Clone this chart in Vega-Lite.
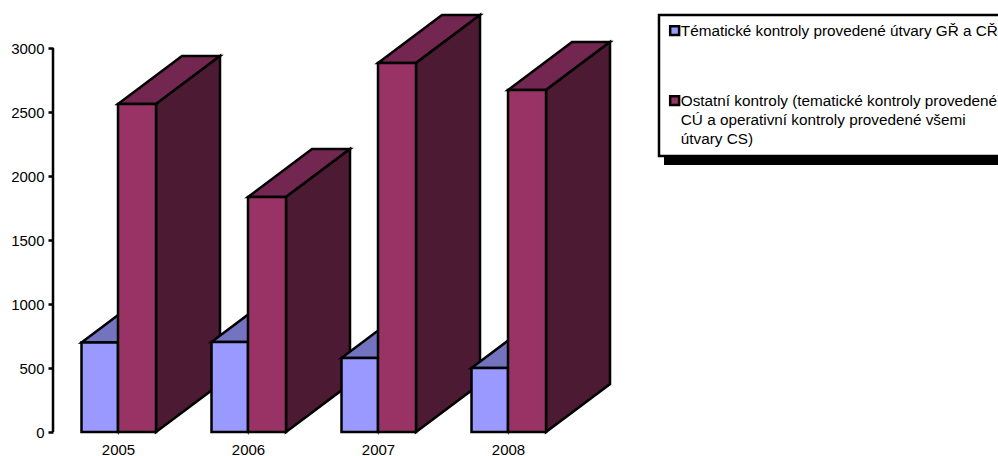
{"$schema":"https://vega.github.io/schema/vega-lite/v6.json","width":945,"height":432,"autosize":{"type":"none"},"padding":{"left":53,"top":0,"right":0,"bottom":24},"background":"white","config":{"font":"Liberation Sans","view":{"stroke":null},"axis":{"grid":false,"title":null}},
"data":{"values":[
{"year":2005,"series":"Tématické kontroly provedené útvary GŘ a CŘ","value":700},
{"year":2005,"series":"Ostatní kontroly (tematické kontroly provedené CÚ a operativní kontroly provedené všemi útvary CS)","value":2562},
{"year":2006,"series":"Tématické kontroly provedené útvary GŘ a CŘ","value":703},
{"year":2006,"series":"Ostatní kontroly (tematické kontroly provedené CÚ a operativní kontroly provedené všemi útvary CS)","value":1836},
{"year":2007,"series":"Tématické kontroly provedené útvary GŘ a CŘ","value":578},
{"year":2007,"series":"Ostatní kontroly (tematické kontroly provedené CÚ a operativní kontroly provedené všemi útvary CS)","value":2883},
{"year":2008,"series":"Tématické kontroly provedené útvary GŘ a CŘ","value":500},
{"year":2008,"series":"Ostatní kontroly (tematické kontroly provedené CÚ a operativní kontroly provedené všemi útvary CS)","value":2672}]},
"transform":[
{"calculate":"indexof(datum.series,'Tém')==0","as":"blue"},
{"calculate":"datum.blue?datum.year-36.5/130:datum.year","as":"x0"},
{"calculate":"datum.blue?datum.year:datum.year+38/130","as":"x1"},
{"calculate":"[0,1]","as":"t"},
{"flatten":["t"]},
{"calculate":"datum.x0+datum.t*64/130","as":"px"},
{"calculate":"datum.x1+datum.t*64/130","as":"px2"},
{"calculate":"datum.t*375","as":"sy"},
{"calculate":"datum.value+datum.t*375","as":"sy2"}],
"layer":[
{"data":{"values":[{}]},"transform":[],"mark":{"type":"rect","color":"black"},"encoding":{"x":{"datum":2009.2,"type":"quantitative","scale":{"domain":[2004.5,2011.769],"nice":false,"zero":false},"title":null},"x2":{"datum":2011.769},"y":{"datum":2086,"type":"quantitative","scale":{"domain":[0,3375],"nice":false,"zero":false},"title":null},"y2":{"datum":3219}}},
{"data":{"values":[{}]},"transform":[],"mark":{"type":"rule","color":"black","strokeWidth":2.5},"encoding":{"x":{"datum":2004.5,"type":"quantitative","scale":{"domain":[2004.5,2011.769],"nice":false,"zero":false},"title":null,"axis":{"values":[2005,2006,2007,2008],"format":"d","domain":false,"tickSize":2,"tickColor":"#666","labelFontSize":15,"labelColor":"black","labelPadding":15,"labelBaseline":"middle","labelFlush":false,"labelOverlap":false}},"y":{"datum":0,"type":"quantitative","scale":{"domain":[0,3375],"nice":false,"zero":false},"title":null,"axis":{"values":[0,500,1000,1500,2000,2500,3000],"format":"d","domain":false,"tickSize":5,"tickWidth":2.5,"tickColor":"black","labelFontSize":15,"labelColor":"black","labelPadding":4}},"y2":{"datum":3000}}},
{"transform":[{"filter":"datum.year==2005"}],"mark":{"type":"area","orient":"horizontal","stroke":"black","strokeWidth":2.5,"fill":{"expr":"datum.blue?'#7373BF':'#732650'"}},"encoding":{"y":{"field":"sy2","type":"quantitative","scale":{"domain":[0,3375],"nice":false,"zero":false},"title":null},"x":{"field":"px","type":"quantitative","scale":{"domain":[2004.5,2011.769],"nice":false,"zero":false},"title":null},"x2":{"field":"px2"},"detail":{"field":"series"}}},
{"transform":[{"filter":"datum.year==2005&&!datum.blue"}],"mark":{"type":"area","orient":"vertical","stroke":"black","strokeWidth":2.5,"fill":"#4D1A33"},"encoding":{"x":{"field":"px2","type":"quantitative","scale":{"domain":[2004.5,2011.769],"nice":false,"zero":false},"title":null},"y":{"field":"sy","type":"quantitative","scale":{"domain":[0,3375],"nice":false,"zero":false},"title":null},"y2":{"field":"sy2"}}},
{"transform":[{"filter":"datum.year==2005&&datum.t==0"}],"mark":{"type":"rect","stroke":"black","strokeWidth":2.5},"encoding":{"x":{"field":"x0","type":"quantitative","scale":{"domain":[2004.5,2011.769],"nice":false,"zero":false},"title":null},"x2":{"field":"x1"},"y":{"field":"value","type":"quantitative","scale":{"domain":[0,3375],"nice":false,"zero":false},"title":null},"y2":{"datum":0},"color":{"field":"series","type":"nominal","scale":{"domain":["Tématické kontroly provedené útvary GŘ a CŘ","Ostatní kontroly (tematické kontroly provedené CÚ a operativní kontroly provedené všemi útvary CS)"],"range":["#9999FF","#993366"]},"legend":{"orient":"none","legendX":606,"legendY":15,"title":null,"labelFontSize":15.3,"labelColor":"black","labelLimit":1000,"labelBaseline":"top","symbolType":"square","symbolSize":80,"symbolStrokeWidth":2.5,"symbolStrokeColor":"black","symbolOpacity":1,"rowPadding":50,"padding":8,"labelOffset":-1.5,"fillColor":"white","strokeColor":"black","labelExpr":"indexof(datum.label,'Ostatní')==0?['Ostatní kontroly (tematické kontroly provedené','CÚ a operativní kontroly provedené všemi','útvary CS)']:datum.label","encode":{"legend":{"update":{"strokeWidth":{"value":2.5}}},"labels":{"update":{"lineHeight":{"value":18.8},"dy":{"value":-6.5}}}}}}}},
{"transform":[{"filter":"datum.year==2006"}],"mark":{"type":"area","orient":"horizontal","stroke":"black","strokeWidth":2.5,"fill":{"expr":"datum.blue?'#7373BF':'#732650'"}},"encoding":{"y":{"field":"sy2","type":"quantitative","scale":{"domain":[0,3375],"nice":false,"zero":false},"title":null},"x":{"field":"px","type":"quantitative","scale":{"domain":[2004.5,2011.769],"nice":false,"zero":false},"title":null},"x2":{"field":"px2"},"detail":{"field":"series"}}},
{"transform":[{"filter":"datum.year==2006&&!datum.blue"}],"mark":{"type":"area","orient":"vertical","stroke":"black","strokeWidth":2.5,"fill":"#4D1A33"},"encoding":{"x":{"field":"px2","type":"quantitative","scale":{"domain":[2004.5,2011.769],"nice":false,"zero":false},"title":null},"y":{"field":"sy","type":"quantitative","scale":{"domain":[0,3375],"nice":false,"zero":false},"title":null},"y2":{"field":"sy2"}}},
{"transform":[{"filter":"datum.year==2006&&datum.t==0"}],"mark":{"type":"rect","stroke":"black","strokeWidth":2.5},"encoding":{"x":{"field":"x0","type":"quantitative","scale":{"domain":[2004.5,2011.769],"nice":false,"zero":false},"title":null},"x2":{"field":"x1"},"y":{"field":"value","type":"quantitative","scale":{"domain":[0,3375],"nice":false,"zero":false},"title":null},"y2":{"datum":0},"color":{"field":"series","type":"nominal"}}},
{"transform":[{"filter":"datum.year==2007"}],"mark":{"type":"area","orient":"horizontal","stroke":"black","strokeWidth":2.5,"fill":{"expr":"datum.blue?'#7373BF':'#732650'"}},"encoding":{"y":{"field":"sy2","type":"quantitative","scale":{"domain":[0,3375],"nice":false,"zero":false},"title":null},"x":{"field":"px","type":"quantitative","scale":{"domain":[2004.5,2011.769],"nice":false,"zero":false},"title":null},"x2":{"field":"px2"},"detail":{"field":"series"}}},
{"transform":[{"filter":"datum.year==2007&&!datum.blue"}],"mark":{"type":"area","orient":"vertical","stroke":"black","strokeWidth":2.5,"fill":"#4D1A33"},"encoding":{"x":{"field":"px2","type":"quantitative","scale":{"domain":[2004.5,2011.769],"nice":false,"zero":false},"title":null},"y":{"field":"sy","type":"quantitative","scale":{"domain":[0,3375],"nice":false,"zero":false},"title":null},"y2":{"field":"sy2"}}},
{"transform":[{"filter":"datum.year==2007&&datum.t==0"}],"mark":{"type":"rect","stroke":"black","strokeWidth":2.5},"encoding":{"x":{"field":"x0","type":"quantitative","scale":{"domain":[2004.5,2011.769],"nice":false,"zero":false},"title":null},"x2":{"field":"x1"},"y":{"field":"value","type":"quantitative","scale":{"domain":[0,3375],"nice":false,"zero":false},"title":null},"y2":{"datum":0},"color":{"field":"series","type":"nominal"}}},
{"transform":[{"filter":"datum.year==2008"}],"mark":{"type":"area","orient":"horizontal","stroke":"black","strokeWidth":2.5,"fill":{"expr":"datum.blue?'#7373BF':'#732650'"}},"encoding":{"y":{"field":"sy2","type":"quantitative","scale":{"domain":[0,3375],"nice":false,"zero":false},"title":null},"x":{"field":"px","type":"quantitative","scale":{"domain":[2004.5,2011.769],"nice":false,"zero":false},"title":null},"x2":{"field":"px2"},"detail":{"field":"series"}}},
{"transform":[{"filter":"datum.year==2008&&!datum.blue"}],"mark":{"type":"area","orient":"vertical","stroke":"black","strokeWidth":2.5,"fill":"#4D1A33"},"encoding":{"x":{"field":"px2","type":"quantitative","scale":{"domain":[2004.5,2011.769],"nice":false,"zero":false},"title":null},"y":{"field":"sy","type":"quantitative","scale":{"domain":[0,3375],"nice":false,"zero":false},"title":null},"y2":{"field":"sy2"}}},
{"transform":[{"filter":"datum.year==2008&&datum.t==0"}],"mark":{"type":"rect","stroke":"black","strokeWidth":2.5},"encoding":{"x":{"field":"x0","type":"quantitative","scale":{"domain":[2004.5,2011.769],"nice":false,"zero":false},"title":null},"x2":{"field":"x1"},"y":{"field":"value","type":"quantitative","scale":{"domain":[0,3375],"nice":false,"zero":false},"title":null},"y2":{"datum":0},"color":{"field":"series","type":"nominal"}}}
]}
